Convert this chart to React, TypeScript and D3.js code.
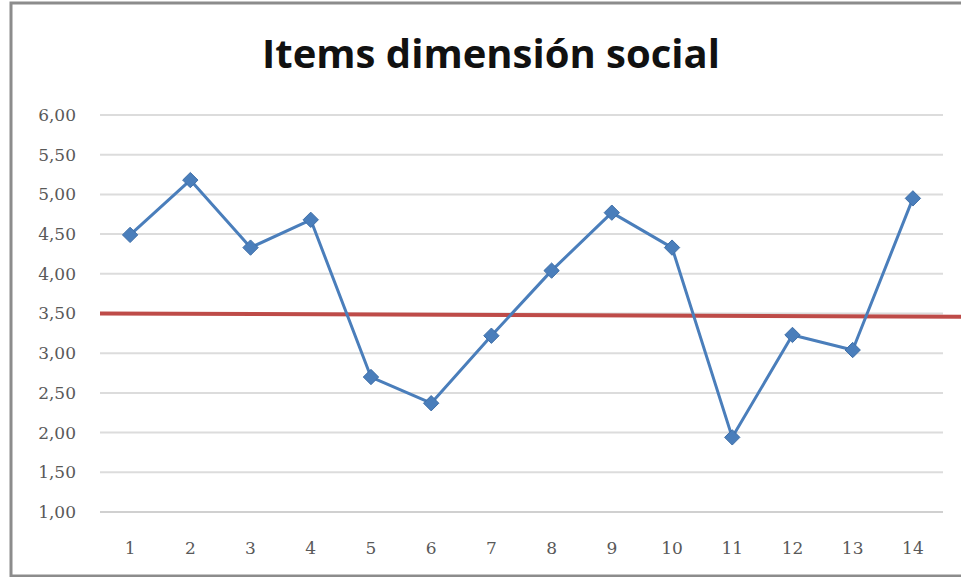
import { useEffect, useRef } from 'react'
import * as d3 from 'd3'

const items = ['1', '2', '3', '4', '5', '6', '7', '8', '9', '10', '11', '12', '13', '14']
const scores = [4.49, 5.18, 4.33, 4.68, 2.7, 2.37, 3.22, 4.04, 4.77, 4.33, 1.94, 3.23, 3.04, 4.95]
const refLine = [3.5, 3.46]
const yTicks = [1, 1.5, 2, 2.5, 3, 3.5, 4, 4.5, 5, 5.5, 6]

export default function App() {
  const svgRef = useRef<SVGSVGElement>(null)

  useEffect(() => {
    if (!svgRef.current) return
    const width = 961
    const height = 577
    const margin = { top: 115, right: 18, bottom: 65, left: 100 }

    const svg = d3.select(svgRef.current)
    svg.selectAll('*').remove()
    svg.attr('width', width).attr('height', height)

    svg.append('rect')
      .attr('width', width).attr('height', height).attr('fill', '#fff')

    // outer chart border
    svg.append('rect')
      .attr('x', 11).attr('y', 3)
      .attr('width', width).attr('height', height - 4)
      .attr('fill', 'none')
      .attr('stroke', '#8c8c8c')
      .attr('stroke-width', 3)

    const x = d3.scaleBand<string>()
      .domain(items)
      .range([margin.left, width - margin.right])

    const y = d3.scaleLinear()
      .domain([1, 6])
      .range([height - margin.bottom, margin.top])

    // gridlines
    svg.append('g')
      .selectAll('line')
      .data(yTicks)
      .join('line')
      .attr('x1', margin.left)
      .attr('x2', width - margin.right)
      .attr('y1', d => y(d))
      .attr('y2', d => y(d))
      .attr('stroke', d => (d === 1 ? '#d0d0d0' : '#dcdcdc'))
      .attr('stroke-width', 2)

    // y labels
    svg.append('g')
      .selectAll('text')
      .data(yTicks)
      .join('text')
      .attr('x', 76)
      .attr('y', d => y(d))
      .attr('dy', '0.35em')
      .attr('text-anchor', 'end')
      .attr('font-family', 'DejaVu Serif, serif')
      .attr('font-size', 17)
      .attr('fill', '#595959')
      .text(d => d3.format('.2f')(d).replace('.', ','))

    // x labels
    svg.append('g')
      .selectAll('text')
      .data(items)
      .join('text')
      .attr('x', d => (x(d) ?? 0) + x.bandwidth() / 2)
      .attr('y', 548)
      .attr('dy', '0.35em')
      .attr('text-anchor', 'middle')
      .attr('font-family', 'DejaVu Serif, serif')
      .attr('font-size', 17)
      .attr('fill', '#595959')
      .text(d => d)

    // reference line (red)
    const refX = d3.scaleLinear().domain([0, 1]).range([margin.left, width])
    svg.append('line')
      .attr('x1', refX(0)).attr('x2', refX(1))
      .attr('y1', y(refLine[0])).attr('y2', y(refLine[1]))
      .attr('stroke', '#be4b48')
      .attr('stroke-width', 4)

    const cx = (i: number) => (x(items[i]) ?? 0) + x.bandwidth() / 2

    const line = d3.line<number>()
      .x((_, i) => cx(i))
      .y(d => y(d))

    svg.append('path')
      .datum(scores)
      .attr('d', line)
      .attr('fill', 'none')
      .attr('stroke', '#4a7ebb')
      .attr('stroke-width', 3)
      .attr('stroke-linejoin', 'round')

    svg.append('g')
      .selectAll('path')
      .data(scores)
      .join('path')
      .attr('d', d3.symbol().type(d3.symbolDiamond2).size(150))
      .attr('transform', (d, i) => `translate(${cx(i)},${y(d)})`)
      .attr('fill', '#4a7ebb')
      .attr('stroke', '#3f6fa8')
      .attr('stroke-width', 1)

    svg.append('text')
      .attr('x', 491)
      .attr('y', 68)
      .attr('text-anchor', 'middle')
      .attr('font-family', 'Open Sans, sans-serif')
      .attr('font-weight', 700)
      .attr('font-size', 40)
      .attr('fill', '#111')
      .text('Items dimensión social')
  }, [])

  return (
    <svg ref={svgRef} style={{ position: 'absolute', left: 0, top: 0, display: 'block' }}></svg>
  )
}
